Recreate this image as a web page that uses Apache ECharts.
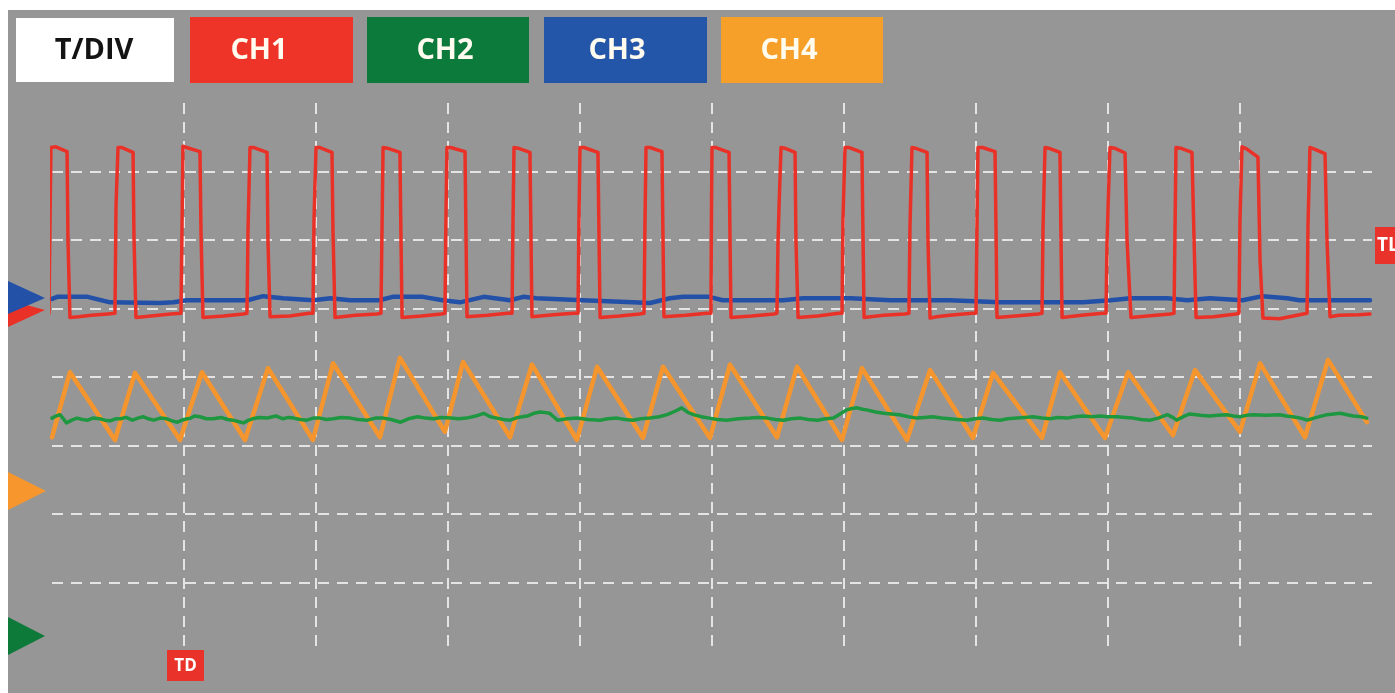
<!DOCTYPE html>
<html>
<head>
<meta charset="utf-8">
<script src="https://cdn.jsdelivr.net/npm/echarts@6/dist/echarts.min.js"></script>
<style>
html,body{margin:0;padding:0;background:#fff;}
#chart{width:1395px;height:693px;}
</style>
</head>
<body>
<div id="chart"></div>
<script>
// Oscilloscope screen: x in time divisions (10 div), y in vertical divisions (8 div)
const buttonLabels = ['T/DIV', 'CH1', 'CH2', 'CH3', 'CH4'];
const channelNames = ['CH1', 'CH2', 'CH3', 'CH4'];
const markerLabels = ['TD', 'TL'];

// CH1 – red pulse train
const ch1 = [
  [-0.023,4.93],[-0.015,6.3],[-0.008,7.35],[0.03,7.36],[0.114,7.29],[0.121,6.0],[0.136,4.87],
  [0.2,4.88],[0.3,4.9],[0.42,4.92],
  [0.477,4.93],[0.485,6.5],[0.5,7.35],[0.53,7.35],[0.614,7.28],[0.621,6.05],[0.636,4.87],
  [0.75,4.89],[0.9,4.92],
  [0.977,4.93],[0.985,6.2],[0.992,7.37],[1.02,7.35],[1.121,7.29],[1.129,6.1],[1.144,4.87],
  [1.3,4.89],[1.45,4.92],
  [1.477,4.93],[1.485,6.15],[1.5,7.35],[1.53,7.35],[1.629,7.28],[1.636,6.0],[1.652,4.88],
  [1.8,4.89],[1.95,4.93],
  [1.977,4.93],[1.985,6.3],[2.0,7.35],[2.03,7.35],[2.121,7.28],[2.129,6.1],[2.144,4.87],
  [2.3,4.9],[2.46,4.92],
  [2.492,4.93],[2.5,6.15],[2.508,7.35],[2.54,7.34],[2.636,7.28],[2.644,6.0],[2.652,4.87],
  [2.8,4.89],[2.95,4.92],
  [2.977,4.93],[2.985,6.4],[2.992,7.35],[3.02,7.35],[3.129,7.29],[3.136,6.1],[3.144,4.88],
  [3.3,4.9],[3.45,4.93],
  [3.485,4.93],[3.492,6.2],[3.5,7.35],[3.53,7.34],[3.621,7.28],[3.629,6.0],[3.636,4.88],
  [3.8,4.91],[3.95,4.93],
  [3.985,4.93],[3.992,6.3],[4.0,7.35],[4.03,7.35],[4.136,7.28],[4.144,6.05],[4.152,4.87],
  [4.3,4.89],[4.45,4.92],
  [4.485,4.93],[4.492,6.2],[4.5,7.35],[4.53,7.35],[4.621,7.29],[4.629,6.0],[4.636,4.88],
  [4.8,4.9],[4.96,4.93],
  [4.992,4.93],[4.996,6.4],[5.0,7.35],[5.03,7.35],[5.129,7.28],[5.136,6.1],[5.144,4.87],
  [5.3,4.89],[5.47,4.92],
  [5.492,4.93],[5.5,5.95],[5.508,6.5],[5.523,7.35],[5.55,7.34],[5.629,7.28],[5.636,6.0],[5.652,4.87],
  [5.8,4.89],[5.96,4.93],
  [5.985,4.93],[5.992,6.3],[6.008,7.35],[6.04,7.35],[6.136,7.28],[6.144,6.05],[6.152,4.87],
  [6.3,4.9],[6.46,4.92],
  [6.492,4.93],[6.5,6.2],[6.515,7.35],[6.54,7.34],[6.629,7.28],[6.636,6.0],[6.652,4.86],
  [6.7,4.88],[6.8,4.9],[6.97,4.93],
  [7.0,4.93],[7.008,6.3],[7.015,7.35],[7.05,7.35],[7.144,7.29],[7.152,6.1],[7.159,4.87],
  [7.3,4.89],[7.47,4.92],
  [7.5,4.93],[7.508,6.2],[7.523,7.35],[7.55,7.34],[7.636,7.28],[7.644,6.0],[7.652,4.87],
  [7.8,4.9],[7.96,4.93],
  [7.985,4.93],[7.992,5.9],[8.0,6.45],[8.015,7.35],[8.05,7.34],[8.129,7.27],[8.144,6.0],[8.174,4.87],
  [8.3,4.89],[8.47,4.92],
  [8.5,4.93],[8.508,6.2],[8.515,7.35],[8.55,7.34],[8.636,7.28],[8.652,6.0],[8.667,4.87],
  [8.8,4.88],[8.97,4.92],
  [8.992,4.93],[9.0,6.3],[9.015,7.36],[9.05,7.33],[9.136,7.21],[9.152,5.7],[9.174,4.86],
  [9.3,4.85],[9.48,4.92],
  [9.508,4.93],[9.515,6.2],[9.53,7.35],[9.56,7.33],[9.644,7.26],[9.659,6.0],[9.682,4.88],
  [9.75,4.9],[9.9,4.91],[9.985,4.92]
];

// CH2 – green, nearly flat noisy trace
const ch2 = [
  [0,3.40],[0.03,3.43],[0.06,3.45],[0.09,3.38],[0.11,3.33],[0.15,3.37],[0.19,3.40],[0.23,3.38],[0.27,3.37],[0.31,3.40],
  [0.36,3.39],[0.40,3.37],[0.44,3.36],[0.48,3.39],[0.52,3.39],[0.56,3.41],[0.61,3.37],[0.65,3.40],[0.69,3.42],[0.73,3.39],
  [0.77,3.37],[0.82,3.40],[0.87,3.39],[0.91,3.36],[0.95,3.34],[1.0,3.38],[1.05,3.40],[1.08,3.43],[1.12,3.42],[1.17,3.39],
  [1.22,3.39],[1.28,3.41],[1.33,3.38],[1.37,3.37],[1.41,3.35],[1.45,3.33],[1.49,3.37],[1.52,3.39],[1.57,3.41],[1.63,3.40],
  [1.67,3.42],[1.70,3.43],[1.75,3.39],[1.79,3.41],[1.83,3.40],[1.88,3.38],[1.93,3.37],[1.98,3.40],[2.03,3.40],[2.08,3.38],
  [2.13,3.39],[2.19,3.41],[2.26,3.40],[2.32,3.38],[2.39,3.37],[2.45,3.40],[2.51,3.40],[2.57,3.38],[2.64,3.34],[2.70,3.39],
  [2.77,3.42],[2.83,3.40],[2.89,3.39],[2.95,3.41],[3.02,3.40],[3.08,3.39],[3.14,3.40],[3.21,3.43],[3.27,3.47],[3.32,3.42],
  [3.37,3.40],[3.42,3.38],[3.47,3.37],[3.53,3.41],[3.60,3.43],[3.65,3.47],[3.70,3.49],[3.74,3.48],[3.77,3.47],[3.80,3.42],
  [3.83,3.37],[3.90,3.39],[3.98,3.40],[4.06,3.38],[4.15,3.37],[4.21,3.39],[4.28,3.40],[4.34,3.38],[4.40,3.37],[4.46,3.39],
  [4.53,3.40],[4.60,3.42],[4.66,3.45],[4.72,3.50],[4.77,3.55],[4.82,3.48],[4.86,3.45],[4.92,3.42],[4.98,3.40],[5.04,3.38],
  [5.11,3.37],[5.20,3.39],[5.29,3.40],[5.35,3.41],[5.42,3.40],[5.48,3.38],[5.54,3.37],[5.60,3.39],[5.67,3.40],[5.73,3.38],
  [5.80,3.37],[5.86,3.39],[5.92,3.40],[5.97,3.46],[6.02,3.52],[6.06,3.54],[6.10,3.55],[6.14,3.53],[6.17,3.52],[6.24,3.49],
  [6.30,3.47],[6.36,3.46],[6.42,3.45],[6.49,3.42],[6.55,3.40],[6.61,3.41],[6.67,3.42],[6.74,3.40],[6.80,3.39],[6.86,3.38],
  [6.93,3.37],[6.99,3.39],[7.05,3.40],[7.12,3.38],[7.18,3.37],[7.24,3.39],[7.31,3.40],[7.37,3.41],[7.43,3.42],[7.50,3.40],
  [7.56,3.39],[7.62,3.41],[7.69,3.40],[7.75,3.42],[7.81,3.43],[7.88,3.42],[7.94,3.43],[8.0,3.42],[8.07,3.42],[8.13,3.41],
  [8.19,3.40],[8.25,3.38],[8.32,3.37],[8.38,3.40],[8.45,3.45],[8.49,3.41],[8.52,3.37],[8.57,3.42],[8.62,3.46],[8.70,3.44],
  [8.77,3.43],[8.83,3.44],[8.90,3.45],[8.95,3.43],[9.0,3.42],[9.05,3.44],[9.10,3.45],[9.20,3.44],[9.30,3.45],[9.35,3.43],
  [9.40,3.42],[9.46,3.40],[9.51,3.37],[9.58,3.41],[9.66,3.45],[9.71,3.46],[9.76,3.47],[9.81,3.45],[9.86,3.43],[9.92,3.42],
  [9.96,3.40]
];

// CH3 – blue, nearly flat trace
const ch3 = [
  [0,5.14],[0.04,5.17],[0.27,5.17],[0.44,5.09],[0.82,5.08],[0.92,5.09],[1.02,5.12],[1.48,5.12],[1.6,5.18],[1.75,5.15],
  [1.98,5.12],[2.11,5.15],[2.26,5.12],[2.48,5.12],[2.58,5.17],[2.81,5.17],[2.96,5.12],[3.09,5.09],[3.27,5.17],[3.47,5.12],
  [3.57,5.17],[3.67,5.15],[4.02,5.12],[4.4,5.09],[4.53,5.08],[4.68,5.15],[4.78,5.17],[4.98,5.17],[5.08,5.12],[5.29,5.12],
  [5.54,5.12],[5.69,5.15],[6.05,5.15],[6.35,5.12],[6.8,5.12],[7.18,5.09],[7.81,5.09],[8.02,5.12],[8.17,5.15],[8.45,5.15],
  [8.6,5.12],[8.77,5.15],[9.02,5.12],[9.17,5.18],[9.36,5.15],[9.45,5.12],[9.985,5.12]
];

// CH4 – orange, sawtooth
const ch4 = [
  [0,3.12],[0.136,4.07],[0.477,3.08],[0.629,4.06],[0.970,3.08],[1.136,4.07],[1.462,3.08],[1.636,4.13],[1.977,3.08],[2.129,4.20],
  [2.485,3.12],[2.636,4.28],[2.977,3.20],[3.114,4.22],[3.470,3.12],[3.636,4.18],[3.977,3.08],[4.129,4.15],[4.477,3.11],[4.629,4.15],
  [4.985,3.11],[5.136,4.18],[5.492,3.12],[5.644,4.15],[5.985,3.08],[6.136,4.13],[6.477,3.08],[6.652,4.10],[6.977,3.11],[7.129,4.06],
  [7.5,3.11],[7.636,4.07],[7.977,3.11],[8.152,4.07],[8.492,3.15],[8.659,4.10],[9.0,3.20],[9.152,4.20],[9.492,3.12],[9.667,4.25],
  [9.962,3.34]
];

const traceColors = { CH1: '#EA3127', CH2: '#1E9741', CH3: '#2451A8', CH4: '#F5952E' };
const buttonColors = ['#FFFFFF', '#EE3329', '#0C7A3B', '#2355A9', '#F6A02A'];

const chart = echarts.init(document.getElementById('chart'), null, { renderer: 'canvas' });

const splitStyle = { color: 'rgba(236,236,236,0.9)', width: 2, type: [11, 8] };

function lineSeries(name, data, width, z) {
  return {
    name, type: 'line', data, showSymbol: false, symbol: 'none', clip: true,
    lineStyle: { color: traceColors[name], width, join: 'round', cap: 'round' },
    itemStyle: { color: traceColors[name] },
    z, animation: false, silent: true
  };
}

const btnRects = [[16,18,158,64],[190,17,163,66],[367,17,162,66],[544,17,163,66],[721,17,162,66]];
const btnTextX = [94, 259, 445, 617, 789];

const graphics = [
  { type: 'rect', shape: { x: 0, y: 0, width: 1395, height: 10 }, style: { fill: '#FFFFFF' }, z: 100 },
  { type: 'rect', shape: { x: 0, y: 0, width: 8, height: 693 }, style: { fill: '#FFFFFF' }, z: 100 }
];
buttonLabels.forEach((lab, i) => {
  const r = btnRects[i];
  graphics.push({ type: 'rect', shape: { x: r[0], y: r[1], width: r[2], height: r[3] }, style: { fill: buttonColors[i] }, z: 50 });
  graphics.push({ type: 'text', x: btnTextX[i], y: 51, z: 51,
    style: { text: lab, fill: i === 0 ? '#141414' : '#FFFBEF', font: 'bold 29px "Open Sans"', textAlign: 'center', textVerticalAlign: 'middle' } });
});
// channel reference markers
graphics.push({ type: 'polygon', shape: { points: [[8,300],[45,310],[8,327]] }, style: { fill: traceColors.CH1 }, z: 60 });
graphics.push({ type: 'polygon', shape: { points: [[8,281],[45,298],[8,314]] }, style: { fill: '#2451A8' }, z: 61 });
graphics.push({ type: 'polygon', shape: { points: [[8,472],[46,491],[8,510]] }, style: { fill: '#F7962D' }, z: 60 });
graphics.push({ type: 'polygon', shape: { points: [[8,617],[45,636],[8,655]] }, style: { fill: '#0E7A3A' }, z: 60 });
// TD / TL markers
graphics.push({ type: 'rect', shape: { x: 167, y: 650, width: 37, height: 31 }, style: { fill: '#E8322A' }, z: 60 });
graphics.push({ type: 'text', x: 185.5, y: 666, z: 61, style: { text: markerLabels[0], fill: '#FFFFFF', font: 'bold 17px "Open Sans"', textAlign: 'center', textVerticalAlign: 'middle' } });
graphics.push({ type: 'rect', shape: { x: 1375, y: 227, width: 40, height: 37 }, style: { fill: '#E8322A' }, z: 60 });
graphics.push({ type: 'text', x: 1377, y: 245.5, z: 61, style: { text: markerLabels[1], fill: '#FFFFFF', font: 'bold 19px "Open Sans"', textAlign: 'left', textVerticalAlign: 'middle' } });

chart.setOption({
  backgroundColor: '#969696',
  animation: false,
  grid: { left: 52, top: 103, width: 1320, height: 548, show: false },
  xAxis: {
    type: 'value', min: 0, max: 10, interval: 1,
    axisLine: { show: false }, axisTick: { show: false }, axisLabel: { show: false },
    splitLine: { show: true, showMinLine: false, showMaxLine: false, lineStyle: splitStyle }
  },
  yAxis: {
    type: 'value', min: 0, max: 8, interval: 1,
    axisLine: { show: false }, axisTick: { show: false }, axisLabel: { show: false },
    splitLine: { show: true, showMinLine: false, showMaxLine: false, lineStyle: splitStyle }
  },
  series: [
    lineSeries('CH3', ch3, 4.5, 2),
    lineSeries('CH1', ch1, 3.5, 3),
    lineSeries('CH4', ch4, 4.5, 4),
    lineSeries('CH2', ch2, 3.5, 5)
  ],
  graphic: { elements: graphics }
});
</script>
</body>
</html>
